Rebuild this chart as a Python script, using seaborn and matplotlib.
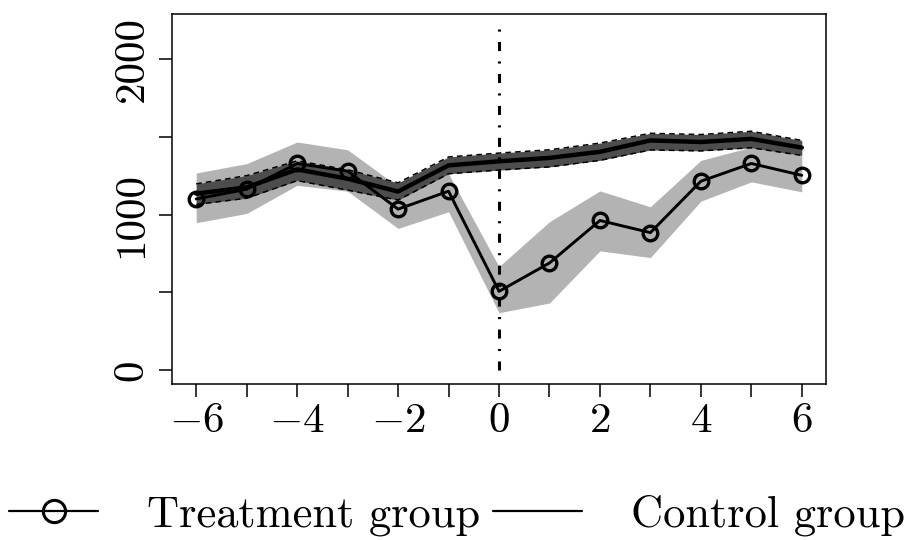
import matplotlib
matplotlib.use("Agg")
import matplotlib.pyplot as plt
import seaborn as sns
import pandas as pd
from matplotlib.lines import Line2D

# ---- data ----
event_time = [-6, -5, -4, -3, -2, -1, 0, 1, 2, 3, 4, 5, 6]
treat_mean = [1100, 1163, 1328, 1279, 1035, 1150, 507, 689, 962, 884, 1214, 1328, 1252]
treat_low = [948, 1007, 1188, 1150, 911, 1018, 370, 432, 767, 724, 1086, 1210, 1146]
treat_high = [1267, 1327, 1466, 1416, 1180, 1262, 666, 954, 1152, 1050, 1348, 1433, 1380]
ctrl_mean = [1134, 1175, 1290, 1230, 1148, 1316, 1342, 1364, 1403, 1476, 1466, 1486, 1430]
ctrl_low = [1065, 1105, 1218, 1157, 1093, 1262, 1286, 1306, 1348, 1415, 1409, 1429, 1380]
ctrl_high = [1197, 1250, 1345, 1288, 1204, 1370, 1395, 1416, 1459, 1522, 1514, 1535, 1476]
x_ticks = [-6, -5, -4, -3, -2, -1, 0, 1, 2, 3, 4, 5, 6]
x_labels = [r"$-6$", "", r"$-4$", "", r"$-2$", "", r"$0$", "", r"$2$", "", r"$4$", "", r"$6$"]
y_ticks = [0, 500, 1000, 1500, 2000]
y_labels = ["0", "", "1000", "", "2000"]
y_top = 2200
treatment_start = 0
legend_labels = ["Treatment group", "Control group"]

df = pd.DataFrame({
    "t": event_time,
    "treat": treat_mean, "treat_lo": treat_low, "treat_hi": treat_high,
    "ctrl": ctrl_mean, "ctrl_lo": ctrl_low, "ctrl_hi": ctrl_high,
})

sns.set_style("ticks")
plt.rcParams["font.family"] = ["cmr10", "DejaVu Serif"]
plt.rcParams["mathtext.fontset"] = "cm"
plt.rcParams["axes.unicode_minus"] = False
plt.rcParams["lines.scale_dashes"] = False
plt.rcParams["text.color"] = "black"
plt.rcParams["xtick.color"] = "black"
plt.rcParams["ytick.color"] = "black"
plt.rcParams["xtick.labelcolor"] = "black"
plt.rcParams["ytick.labelcolor"] = "black"

fig = plt.figure(figsize=(9.21, 5.40), dpi=100)
ax = fig.add_axes([172 / 921, 1 - 384 / 540, (826 - 172) / 921, (384 - 14) / 540])

# bands
ax.fill_between(df["t"], df["treat_lo"], df["treat_hi"], color="#b3b3b3", lw=0, zorder=1)
ax.fill_between(df["t"], df["ctrl_lo"], df["ctrl_hi"], color="#4d4d4d", lw=0, zorder=2)
for col in ["ctrl_lo", "ctrl_hi"]:
    ax.plot(df["t"], df[col], color="black", lw=1.1, linestyle=(0, (4, 3)), zorder=3)

# control line
sns.lineplot(data=df, x="t", y="ctrl", ax=ax, color="black", lw=3.2, zorder=4)
# treatment line with hollow circles
sns.lineplot(data=df, x="t", y="treat", ax=ax, color="black", lw=2.1, marker="o",
             markersize=10.5, markerfacecolor="none", markeredgecolor="black",
             markeredgewidth=2.4, zorder=5)

# reference line at treatment start
ax.vlines(treatment_start, 0, y_top, colors="black", lw=2.2,
          linestyles=[(0, (6.5, 7.5, 1.5, 7.5))], zorder=3)

# axes
span_x = x_ticks[-1] - x_ticks[0]
ax.set_xlim(x_ticks[0] - 0.04 * span_x, x_ticks[-1] + 0.04 * span_x)
ax.set_ylim(-0.04 * y_top, y_top * 1.04)
ax.set_xticks(x_ticks)
ax.set_xticklabels(x_labels, fontsize=31, color="black")
ax.set_yticks(y_ticks)
ax.set_yticklabels(y_labels, fontsize=31, rotation=90, va="center", color="black")
ax.tick_params(axis="both", length=9.5, width=1.1, color="black", direction="out")
ax.tick_params(axis="x", pad=4)
ax.tick_params(axis="y", pad=6)
ax.set_xlabel("")
ax.set_ylabel("")
for s in ax.spines.values():
    s.set_visible(True)
    s.set_linewidth(1.1)
    s.set_color("black")

handles = [
    Line2D([], [], color="black", lw=1.6, marker="o", markersize=16,
           markerfacecolor="none", markeredgewidth=2.2),
    Line2D([], [], color="black", lw=1.6),
]
leg = fig.legend(handles, legend_labels, loc="center left", bbox_to_anchor=(0.01, 0.045),
                 ncol=2, frameon=False, fontsize=32, handlelength=2.0, handletextpad=1.1,
                 columnspacing=0.3, borderaxespad=0, borderpad=0)
for t in leg.get_texts():
    t.set_color("black")

fig.savefig("out.png", dpi=100)
